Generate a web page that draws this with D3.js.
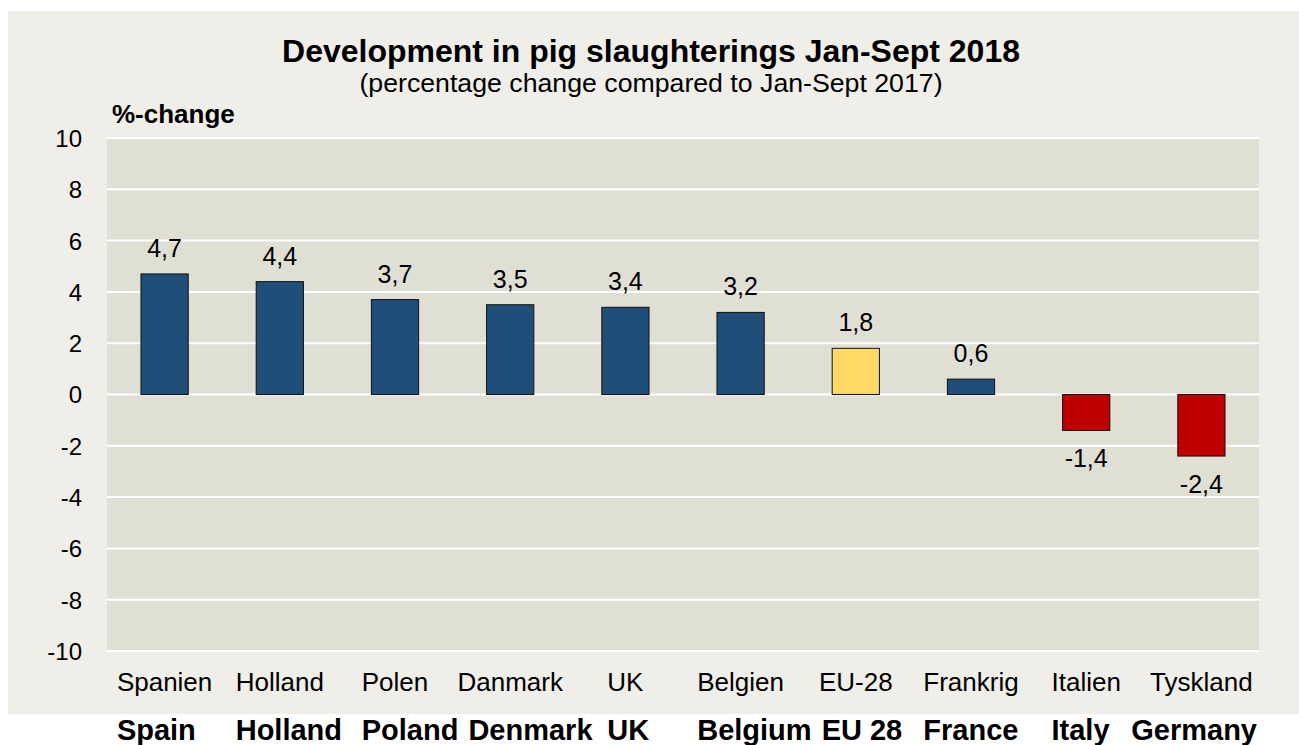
<!DOCTYPE html>
<html>
<head>
<meta charset="utf-8">
<script src="https://cdn.jsdelivr.net/npm/d3@7"></script>
<style>
  body { margin: 0; background: #fff; }
  text { font-family: Arial, "Liberation Sans", sans-serif; }
</style>
</head>
<body>
<script>
// data
let categories = ['Spanien', 'Holland', 'Polen', 'Danmark', 'UK', 'Belgien', 'EU-28', 'Frankrig', 'Italien', 'Tyskland']
let englishNames = ['Spain', 'Holland', 'Poland', 'Denmark', 'UK', 'Belgium', 'EU 28', 'France', 'Italy', 'Germany']
let values = [4.7, 4.4, 3.7, 3.5, 3.4, 3.2, 1.8, 0.6, -1.4, -2.4]
let yTicks = [-10, -8, -6, -4, -2, 0, 2, 4, 6, 8, 10]

let width = 1299
let height = 745
let plot = {left: 107, right: 1259, top: 138, bottom: 651}

let svg = d3.select('body')
  .append('svg')
  .attr('width', width)
  .attr('height', height)

// outer panel
svg.append('rect')
  .attr('x', 8).attr('y', 11)
  .attr('width', width - 8).attr('height', 703)
  .attr('fill', '#efeee8')

let scaleX = d3.scaleBand()
  .domain(categories)
  .range([plot.left, plot.right])
  .paddingInner(0.59)
  .paddingOuter(0.295)

let scaleY = d3.scaleLinear()
  .domain([-10, 10])
  .range([plot.bottom, plot.top])

svg.append('rect')
  .attr('x', plot.left).attr('y', plot.top)
  .attr('width', plot.right - plot.left).attr('height', plot.bottom - plot.top)
  .attr('fill', '#e0dfd4')

// gridlines
svg.append('g')
  .selectAll('line')
  .data(yTicks)
  .enter()
  .append('line')
  .attr('x1', plot.left).attr('x2', plot.right)
  .attr('y1', d => scaleY(d)).attr('y2', d => scaleY(d))
  .attr('stroke', '#ffffff')
  .attr('stroke-width', 2)

// y axis labels (plain hyphen for negatives, like the original)
let yAxis = d3.axisLeft(scaleY)
  .tickValues(yTicks)
  .tickFormat(d => String(d))
  .tickSize(0)
  .tickPadding(0)
let gy = svg.append('g')
  .attr('transform', 'translate(82,0)')
  .call(yAxis)
gy.select('.domain').remove()
gy.selectAll('text')
  .attr('font-size', 24)
  .attr('font-family', 'Arial, "Liberation Sans", sans-serif')
  .attr('fill', '#000')
  .attr('dy', '0.35em')

function barColor(d, i) {
  if (categories[i] === 'EU-28') return '#ffd966'
  return d < 0 ? '#c00000' : '#1f4e79'
}

// bars
svg.append('g')
  .selectAll('rect')
  .data(values)
  .enter()
  .append('rect')
  .attr('x', (d, i) => scaleX(categories[i]))
  .attr('width', scaleX.bandwidth())
  .attr('y', d => scaleY(Math.max(0, d)))
  .attr('height', d => Math.abs(scaleY(d) - scaleY(0)))
  .attr('fill', barColor)
  .attr('stroke', '#111')
  .attr('stroke-width', 1)

// value labels
svg.append('g')
  .selectAll('text')
  .data(values)
  .enter()
  .append('text')
  .attr('x', (d, i) => scaleX(categories[i]) + scaleX.bandwidth() / 2)
  .attr('y', d => d >= 0 ? scaleY(d) - 17 : scaleY(d) + 37)
  .attr('text-anchor', 'middle')
  .attr('font-size', 25)
  .attr('fill', '#000')
  .text(d => d.toFixed(1).replace('.', ','))

// category labels (Danish)
let catLabels = svg.append('g')
  .selectAll('text')
  .data(categories)
  .enter()
  .append('text')
  .attr('x', d => scaleX(d) + scaleX.bandwidth() / 2)
  .attr('y', 691)
  .attr('text-anchor', 'middle')
  .attr('font-size', 26)
  .attr('fill', '#000')
  .text(d => d)

// English names, lined up with the left edge of the Danish labels,
// pushed right when they would touch the previous one, kept inside the plot
let lefts = []
catLabels.each(function () { lefts.push(this.getBBox().x) })
let engLabels = svg.append('g')
  .selectAll('text')
  .data(englishNames)
  .enter()
  .append('text')
  .attr('x', (d, i) => lefts[i])
  .attr('y', 740)
  .attr('font-size', 29)
  .attr('font-weight', 'bold')
  .attr('fill', '#000')
  .text(d => d)

let prevEnd = -Infinity
engLabels.each(function () {
  let bb = this.getBBox()
  let x = Math.max(bb.x, prevEnd + 10)
  if (x + bb.width > plot.right - 2) x = plot.right - 2 - bb.width
  d3.select(this).attr('x', x)
  prevEnd = x + bb.width
})

// titles
svg.append('text')
  .attr('x', 651).attr('y', 62)
  .attr('text-anchor', 'middle')
  .attr('font-size', 32)
  .attr('font-weight', 'bold')
  .text('Development in pig slaughterings Jan-Sept 2018')

svg.append('text')
  .attr('x', 651).attr('y', 92)
  .attr('text-anchor', 'middle')
  .attr('font-size', 26.7)
  .text('(percentage change compared to Jan-Sept 2017)')

svg.append('text')
  .attr('x', 112).attr('y', 123)
  .attr('font-size', 26)
  .attr('font-weight', 'bold')
  .text('%-change')
</script>
</body>
</html>
